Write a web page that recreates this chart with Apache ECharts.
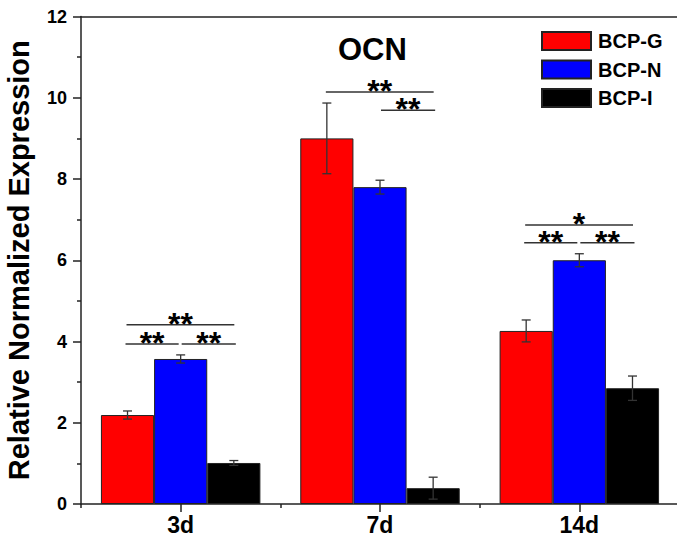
<!DOCTYPE html>
<html>
<head>
<meta charset="utf-8">
<script src="https://cdn.jsdelivr.net/npm/echarts@6/dist/echarts.min.js"></script>
<style>
html,body{margin:0;padding:0;background:#fff;}
#chart{width:677px;height:544px;}
</style>
</head>
<body>
<div id="chart"></div>
<script>
// ---- data ----
const categories = ['3d', '7d', '14d'];
const seriesNames = ['BCP-G', 'BCP-N', 'BCP-I'];
const bcpG = [2.19, 9.00, 4.26];
const bcpN = [3.57, 7.80, 6.00];
const bcpI = [1.01, 0.39, 2.85];
const errG = [0.10, 0.87, 0.27];
const errN = [0.10, 0.17, 0.16];
const errI = [0.06, 0.27, 0.30];
const yMin = 0, yMax = 12, yInterval = 2;
const chartTitle = 'OCN';
const yAxisTitle = 'Relative Normalized Expression';
// significance brackets: category, from bar, to bar, height, label
const sigCategory = [0, 0, 0, 1, 1, 2, 2, 2];
const sigFrom     = [0, 0, 1, 0, 1, 0, 0, 1];
const sigTo       = [2, 1, 2, 2, 2, 2, 1, 2];
const sigLevel    = [4.41, 3.94, 3.94, 10.14, 9.69, 6.87, 6.43, 6.43];
const sigLabel    = ['**', '**', '**', '**', '**', '*', '**', '**'];

const colors = ['#ff0000', '#0000ff', '#000000'];
const values = [bcpG, bcpN, bcpI];
const errors = [errG, errN, errI];
const GAP = 0.2;

const errData = [];
for (let s = 0; s < 3; s++) for (let c = 0; c < categories.length; c++) errData.push([c, values[s][c], errors[s][c], s]);
const sigData = sigCategory.map((c, i) => [c, sigLevel[i], sigFrom[i], sigTo[i], i]);

function barCenter(api, ci, si) {
  const band = api.size([1, 0])[0];
  const bw = band * (1 - GAP) / 3;
  return api.coord([ci, 0])[0] + (si - 1) * bw;
}

const chart = echarts.init(document.getElementById('chart'), null, {renderer: 'svg'});
const FONT = 'Liberation Sans, Arial, sans-serif';
const AX = '#222';

const option = {
  animation: false,
  backgroundColor: '#fff',
  title: {
    text: chartTitle, left: 333, top: 29,
    textStyle: {fontFamily: FONT, fontWeight: 'bold', fontSize: 31, color: '#000'}
  },
  legend: {
    data: seriesNames, orient: 'vertical', left: 536, top: 26,
    itemWidth: 49, itemHeight: 18, itemGap: 8.5, icon: 'rect',
    textStyle: {fontFamily: FONT, fontWeight: 'bold', fontSize: 20, color: '#000', padding: [0, 0, 0, 2]}
  },
  grid: {left: 81, top: 16.5, width: 598, height: 487.5, containLabel: false, outerBoundsMode: 'none'},
  xAxis: [
    {
      type: 'category', data: categories, position: 'bottom',
      axisLine: {show: true, lineStyle: {color: AX, width: 1.5}},
      axisTick: {show: true, alignWithLabel: true, length: 8, lineStyle: {color: AX, width: 1.5}},
      axisLabel: {margin: 9, fontFamily: FONT, fontWeight: 'bold', fontSize: 23, color: '#000'},
      splitLine: {show: false}
    },
    {
      type: 'category', data: categories, position: 'bottom', gridIndex: 0,
      axisLine: {show: false},
      axisTick: {show: true, length: 4, lineStyle: {color: AX, width: 1.5}},
      axisLabel: {show: false}, splitLine: {show: false}
    },
    {
      type: 'category', data: categories, position: 'top', gridIndex: 0,
      axisLine: {show: true, lineStyle: {color: AX, width: 1.5}},
      axisTick: {show: false}, axisLabel: {show: false}, splitLine: {show: false}
    }
  ],
  yAxis: {
    type: 'value', min: yMin, max: yMax, interval: yInterval,
    name: yAxisTitle, nameLocation: 'middle', nameGap: 48, nameRotate: 90,
    nameTextStyle: {fontFamily: FONT, fontWeight: 'bold', fontSize: 29, color: '#000'},
    axisLine: {show: true, lineStyle: {color: AX, width: 1.5}},
    axisTick: {show: true, length: 8, lineStyle: {color: AX, width: 1.5}},
    minorTick: {show: true, splitNumber: 2, length: 4, lineStyle: {color: AX, width: 1.5}},
    axisLabel: {margin: 14, fontFamily: FONT, fontWeight: 'bold', fontSize: 18, color: '#000'},
    splitLine: {show: false}, minorSplitLine: {show: false}
  },
  series: [
    ...seriesNames.map((n, s) => ({
      name: n, type: 'bar', data: values[s], xAxisIndex: 0,
      barGap: '0%', barCategoryGap: (GAP * 100) + '%',
      itemStyle: {color: colors[s], borderColor: '#222', borderWidth: 1}
    })),
    {
      type: 'custom', name: 'err', xAxisIndex: 0, z: 5, silent: true,
      data: errData, encode: {x: 0, y: 1},
      renderItem: function (params, api) {
        const ci = api.value(0), v = api.value(1), e = api.value(2), si = api.value(3);
        const cx = barCenter(api, ci, si);
        const top = api.coord([ci, v + e])[1], bot = api.coord([ci, v - e])[1];
        const cap = 4.5;
        const st = {stroke: '#333', lineWidth: 1.3};
        return {type: 'group', children: [
          {type: 'line', shape: {x1: cx, y1: top, x2: cx, y2: bot}, style: st},
          {type: 'line', shape: {x1: cx - cap, y1: top, x2: cx + cap, y2: top}, style: st},
          {type: 'line', shape: {x1: cx - cap, y1: bot, x2: cx + cap, y2: bot}, style: st}
        ]};
      }
    },
    {
      type: 'custom', name: 'sig', xAxisIndex: 0, z: 6, silent: true,
      data: sigData, encode: {x: 0, y: 1},
      renderItem: function (params, api) {
        const ci = api.value(0), lv = api.value(1), f = api.value(2), t = api.value(3), idx = api.value(4);
        let x1 = barCenter(api, ci, f), x2 = barCenter(api, ci, t);
        if (t - f === 1) {
          if (f === 0) { x1 -= 2; x2 -= 2; } else { x1 += 1; x2 += 2; }
        } else { x1 -= 1; x2 += 0.5; }
        const y = api.coord([ci, lv])[1];
        return {type: 'group', children: [
          {type: 'line', shape: {x1: x1, y1: y, x2: x2, y2: y}, style: {stroke: '#333', lineWidth: 1.5}},
          {type: 'text', x: (x1 + x2) / 2, y: y - 1, style: {
            text: sigLabel[idx], fill: '#000', align: 'center', verticalAlign: 'middle',
            font: 'bold 32px ' + FONT
          }}
        ]};
      }
    }
  ]
};
chart.setOption(option);
</script>
</body>
</html>
